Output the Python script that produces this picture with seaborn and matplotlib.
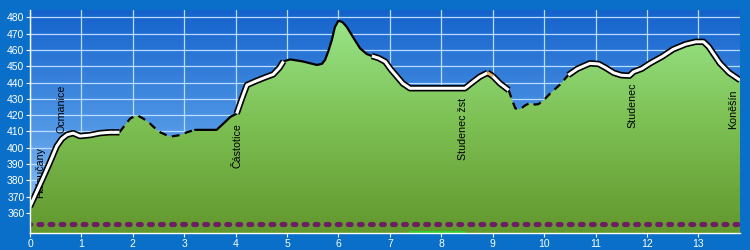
import numpy as np
import pandas as pd
import matplotlib
matplotlib.use("Agg")
import matplotlib.pyplot as plt
import seaborn as sns
from matplotlib.colors import LinearSegmentedColormap

# ---- data ----
dist_km = [0.00, 0.13, 0.26, 0.40, 0.52, 0.62, 0.72, 0.84, 0.97, 1.17, 1.36, 1.55, 1.74,
           1.80, 1.95, 2.08, 2.20, 2.33, 2.50, 2.72, 2.92, 3.05, 3.21, 3.63, 3.80, 3.90,
           4.02, 4.12, 4.22, 4.40, 4.60, 4.73, 4.85, 4.93, 5.06, 5.30, 5.58, 5.68, 5.74,
           5.80, 5.87, 5.93, 6.00, 6.08, 6.16, 6.30, 6.42, 6.55, 6.65, 6.78, 6.91, 7.02,
           7.14, 7.25, 7.39, 8.46, 8.60, 8.75, 8.90, 9.00, 9.14, 9.31, 9.38, 9.44, 9.53,
           9.63, 9.73, 9.82, 9.89, 10.00, 10.12, 10.30, 10.47, 10.65, 10.89, 11.06, 11.20,
           11.35, 11.50, 11.66, 11.74, 11.90, 12.06, 12.30, 12.51, 12.75, 12.95, 13.10,
           13.20, 13.42, 13.60, 13.81]
elev_m = [364, 373, 382, 392, 401, 405.5, 408, 409, 407.2, 407.8, 409, 409.5, 409.5,
          412, 418, 420, 418, 415, 410, 406.8, 407.8, 409.5, 411, 411, 416, 419,
          421, 430, 438.5, 441, 443.5, 445, 449, 453, 454.2, 453, 450.8, 451.5, 454,
          459, 466, 474, 478, 477, 474.2, 467, 461, 457.5, 456.3, 455, 452.8, 448,
          443.6, 439.5, 436.5, 436.5, 440, 443.6, 446, 444, 439.5, 435.4, 429, 424.2, 423.6,
          426, 427.6, 426.5, 426.8, 429.5, 433.4, 438.5, 444.6, 448.5, 451.8, 451.4, 449,
          446, 444.5, 444.2, 446.6, 448.5, 451.8, 456, 460.4, 463.5, 465, 465,
          462, 451.8, 446, 441.5]

# surface segments: start km, end km, type
seg_start = [0.00, 1.74, 3.21, 4.02, 4.93, 6.65, 8.90, 9.00, 9.31, 10.47]
seg_end   = [1.74, 3.21, 4.02, 4.93, 6.65, 8.90, 9.00, 9.31, 10.47, 13.81]
seg_type  = ["road", "path", "thin", "road", "thin", "road", "orange", "road", "path", "road"]

place_names = ["Haloučany", "Ocmanice", "Částotice", "Studenec žst", "Studenec", "Koněšín"]
place_km    = [0.19, 0.62, 4.03, 8.43, 11.71, 13.68]
place_top   = [400.5, 438.5, 415.2, 430.5, 440.3, 436.0]

dot_level = 353.3
green_start, green_end, green_level = 7.40, 8.45, 348.6

x_ticks = list(range(0, 14))
y_ticks = list(range(360, 481, 10))

# ---- figure ----
sns.set_theme(style="white")
plt.rcParams["font.family"] = ["Liberation Sans", "DejaVu Sans"]

outer_bg = "#0a6fc8"
fig = plt.figure(figsize=(7.5, 2.5), dpi=100, facecolor=outer_bg)
ax = fig.add_axes([30 / 750, 1 - 233 / 250, 710 / 750, 223 / 250])

xmin, xmax = 0, 13.81
ymin, ymax = 347.75, 484.5

df = pd.DataFrame({"km": dist_km, "elev": elev_m})

# blue sky gradient
sky = LinearSegmentedColormap.from_list("sky", ["#9ccbf6", "#4d94e4", "#1462cc"])
ax.imshow(np.linspace(0, 1, 256).reshape(-1, 1), cmap=sky, origin="lower",
          extent=[xmin, xmax, ymin, ymax], aspect="auto", zorder=0)

# grid
for xt in x_ticks:
    ax.axvline(xt, color="#b8dcff", lw=0.9, zorder=1)
for yt in y_ticks:
    ax.axhline(yt, color="#b8dcff", lw=0.9, zorder=1)

# terrain fill with gradient
poly = ax.fill_between(df["km"], df["elev"], ymin, facecolor="none", edgecolor="none", zorder=2)
grass = LinearSegmentedColormap.from_list("grass", ["#62982e", "#7cbf52", "#9ae68a"])
im = ax.imshow(np.linspace(0, 1, 256).reshape(-1, 1), cmap=grass, origin="lower",
               extent=[xmin, xmax, ymin, 480], aspect="auto", zorder=2)
im.set_clip_path(poly.get_paths()[0], transform=ax.transData)

# place labels
for name, px, pt in zip(place_names, place_km, place_top):
    ax.text(px, pt, name, rotation=90, ha="center", va="top", fontsize=7.7,
            color="black", zorder=3)

# profile line segments
for s, e, t in zip(seg_start, seg_end, seg_type):
    sub = df[(df["km"] >= s - 1e-9) & (df["km"] <= e + 1e-9)]
    if t in ("road", "orange"):
        sns.lineplot(data=sub, x="km", y="elev", ax=ax, color="black", lw=4.6,
                     solid_capstyle="butt", zorder=4, sort=False)
        inner = "white" if t == "road" else "#e8b060"
        sns.lineplot(data=sub, x="km", y="elev", ax=ax, color=inner, lw=2.2,
                     solid_capstyle="butt", zorder=5, sort=False)
    elif t == "path":
        sns.lineplot(data=sub, x="km", y="elev", ax=ax, color="black", lw=1.6,
                     linestyle=(0, (3.5, 2.5)), zorder=4, sort=False)
    else:
        sns.lineplot(data=sub, x="km", y="elev", ax=ax, color="black", lw=1.6,
                     zorder=4, sort=False)

# purple dotted band and green segment
ax.plot([xmin, xmax], [dot_level, dot_level], color="#6e1e62", lw=3.7,
        linestyle=(0.5, (0.55, 1.6)), dash_capstyle="round", zorder=4)
ax.plot([green_start, green_end], [green_level, green_level],
        color="#2ecc2e", lw=2.2, zorder=4)

ax.set_xlim(xmin, xmax)
ax.set_ylim(ymin, ymax)
ax.set_xticks(x_ticks)
ax.set_yticks(y_ticks)
ax.set_xlabel("")
ax.set_ylabel("")
ax.tick_params(axis="both", colors="white", labelcolor="white", labelsize=7.5,
               length=3, width=0.8, pad=1, left=True, bottom=True)
for side in ("top", "right"):
    ax.spines[side].set_visible(False)
for side in ("left", "bottom"):
    ax.spines[side].set_color("white")
    ax.spines[side].set_linewidth(1.0)
    ax.spines[side].set_zorder(6)
if ax.get_legend():
    ax.get_legend().remove()

fig.savefig("out.png", dpi=100, facecolor=outer_bg)
